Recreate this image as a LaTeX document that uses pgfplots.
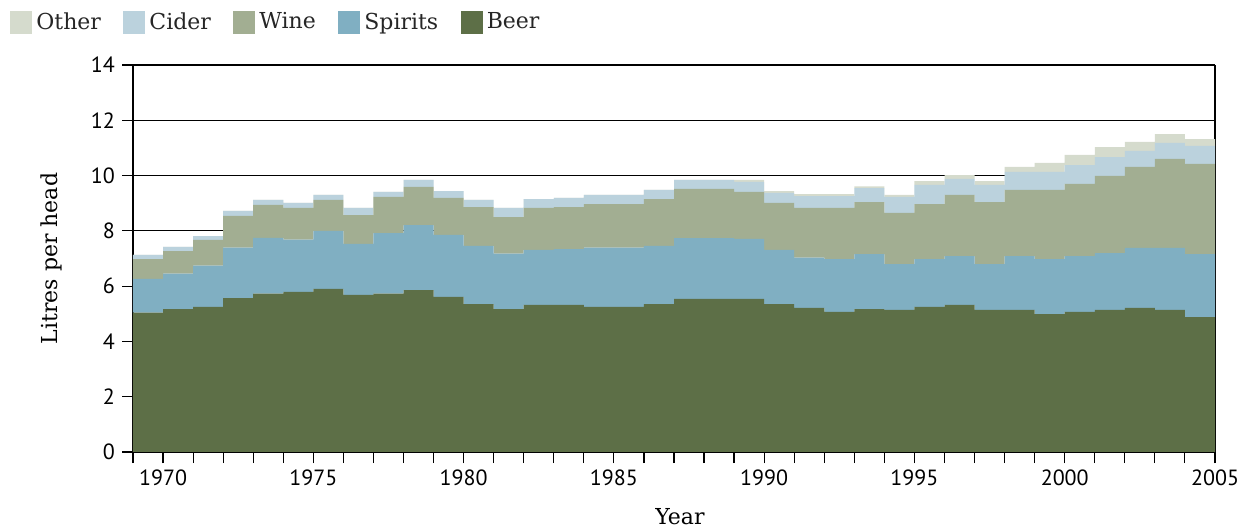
\documentclass[border=0pt]{standalone}
\usepackage{fontspec}
\setmainfont{DejaVu Serif}
\newfontfamily\ticksfont{PT Sans}
\usepackage{pgfplots}
\usepackage{pgfplotstable}
\pgfplotsset{compat=1.18}
\definecolor{Beer}{HTML}{5D6F47}
\definecolor{Spirits}{HTML}{80AFC2}
\definecolor{Wine}{HTML}{A2AE92}
\definecolor{Cider}{HTML}{BBD2DD}
\definecolor{Other}{HTML}{D5DBCD}

% litres per head, one step per year (last row closes the final step)
\pgfplotstableread{
year beer spirits wine cider other
1969 5.04 1.22 0.72 0.15 0
1970 5.17 1.28 0.82 0.15 0
1971 5.25 1.49 0.93 0.14 0
1972 5.57 1.82 1.15 0.18 0
1973 5.73 2.02 1.19 0.18 0
1974 5.79 1.89 1.15 0.18 0
1975 5.90 2.10 1.12 0.18 0
1976 5.68 1.85 1.04 0.26 0
1977 5.73 2.19 1.31 0.18 0
1978 5.86 2.35 1.38 0.25 0
1979 5.61 2.24 1.34 0.25 0
1980 5.35 2.11 1.40 0.26 0
1981 5.17 2.01 1.32 0.33 0
1982 5.32 1.99 1.52 0.32 0
1983 5.32 2.02 1.52 0.33 0
1984 5.25 2.14 1.58 0.33 0
1985 5.25 2.14 1.58 0.33 0
1986 5.35 2.11 1.69 0.33 0
1987 5.54 2.20 1.78 0.32 0
1988 5.54 2.20 1.78 0.32 0
1989 5.54 2.17 1.70 0.36 0.07
1990 5.35 1.96 1.70 0.36 0.07
1991 5.21 1.82 1.80 0.43 0.07
1992 5.07 1.91 1.85 0.43 0.07
1993 5.17 1.99 1.88 0.51 0.06
1994 5.14 1.66 1.85 0.58 0.07
1995 5.25 1.73 1.99 0.69 0.14
1996 5.32 1.77 2.21 0.58 0.14
1997 5.14 1.66 2.24 0.62 0.14
1998 5.14 1.95 2.39 0.65 0.18
1999 4.99 1.99 2.50 0.65 0.33
2000 5.07 2.02 2.61 0.68 0.37
2001 5.14 2.05 2.80 0.68 0.36
2002 5.21 2.17 2.93 0.58 0.33
2003 5.14 2.24 3.22 0.58 0.32
2004 4.88 2.28 3.26 0.65 0.25
2005 4.88 2.28 3.26 0.65 0.25
}\drinks

\begin{document}
\begin{tikzpicture}
\path[use as bounding box] (-66.5pt,-38pt) rectangle (556pt,226pt);
\begin{axis}[
  scale only axis,
  width=541pt, height=193.5pt,
  xmin=1969, xmax=2005,
  ymin=0, ymax=14,
  stack plots=y,
  axis x line*=bottom,
  axis y line*=box,
  ytick={0,2,...,14},
  ytick pos=left,
  xtick={1970,1975,...,2005},
  minor xtick={1969,...,2005},
  tick align=outside,
  major tick length=5.5pt,
  minor tick length=5.5pt,
  tick style={black, line width=0.6pt},
  axis line style={black, line width=0.8pt},
  ymajorgrids,
  grid style={black, line width=0.6pt},
  tick label style={font=\ticksfont\fontsize{11}{13}\selectfont},
  /pgf/number format/assume math mode=true,
  /pgf/number format/1000 sep={},
  xlabel={Year},
  ylabel={Litres per head},
  label style={font=\fontsize{11}{13}\selectfont},
  xlabel style={at={(axis description cs:0.5055,-0.168)}, anchor=center},
  ylabel style={at={(axis description cs:-0.0758,0.5)}, anchor=center},
  legend columns=5,
  reverse legend,
  legend style={at={(-0.1137,1.147)}, anchor=north west, draw=none, fill=none,
    inner sep=0pt, font=\fontsize{11}{13}\selectfont, text=black!85,
    /tikz/every even column/.append style={column sep=9.25pt}},
  legend cell align=left,
  legend image code/.code={\fill[#1] (0pt,-5.75pt) rectangle (11pt,5.75pt);},
]
\addplot[const plot, fill=Beer, draw=none] table[x=year, y=beer] {\drinks} \closedcycle;
\addlegendentry{Beer}
\addplot[const plot, fill=Spirits, draw=none] table[x=year, y=spirits] {\drinks} \closedcycle;
\addlegendentry{Spirits}
\addplot[const plot, fill=Wine, draw=none] table[x=year, y=wine] {\drinks} \closedcycle;
\addlegendentry{Wine}
\addplot[const plot, fill=Cider, draw=none] table[x=year, y=cider] {\drinks} \closedcycle;
\addlegendentry{Cider}
\addplot[const plot, fill=Other, draw=none] table[x=year, y=other] {\drinks} \closedcycle;
\addlegendentry{Other}
\end{axis}
\end{tikzpicture}
\end{document}
